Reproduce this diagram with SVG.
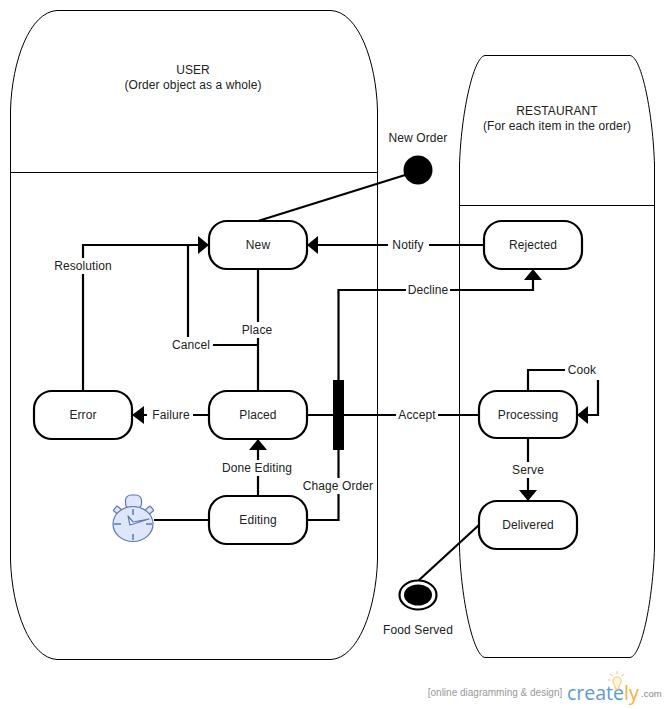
<svg xmlns="http://www.w3.org/2000/svg" width="666" height="709" viewBox="0 0 666 709">
<style>
text{font-family:"Liberation Sans",Arial,sans-serif;font-size:12px;fill:#222;text-anchor:middle;letter-spacing:.1px}
.lane{fill:#fff;stroke:#000;stroke-width:1}
.st{fill:#fff;stroke:#000;stroke-width:2.2}
.c{fill:none;stroke:#000;stroke-width:2.2}
.ah{fill:#000;stroke:none}
.lb{fill:#fff;stroke:none}
</style>
<rect width="666" height="709" fill="#fff"/>
<g id="lane-user">
<path class="lane" d="M57 10.500H331C358 12 376 60 377.500 110V560C376 610 358 658 331 659.500H57C30 658 12 610 10.500 560V110C12 60 30 12 57 10.500Z"/>
<path class="lane" d="M10.500 172.500H377.500"/>
<text x="193" y="74">USER</text>
<text x="193" y="89">(Order object as a whole)</text>
</g>
<g id="lane-restaurant">
<path class="lane" d="M485 55.500H630C642 57 653 115 654.500 165V548C653 598 642 656 630 657.500H485C473 656 461 598 459.500 548V165C461 115 473 57 485 55.500Z"/>
<path class="lane" d="M459.500 205.500H654.500"/>
<text x="557" y="115">RESTAURANT</text>
<text x="557" y="130">(For each item in the order)</text>
</g>
<g id="connectors">
<path class="c" d="M258 221L418 171"/>
<path class="c" d="M484 245H318"/>
<path class="ah" d="M307 245L318 236V254Z"/>
<path class="c" d="M83 391V245H198"/>
<path class="ah" d="M209 245L198 236V254Z"/>
<path class="c" d="M258 391V269"/>
<path class="c" d="M258 345H188V245"/>
<path class="c" d="M208 415H144"/>
<path class="ah" d="M132 415L144 406V424Z"/>
<path class="c" d="M307 415H479"/>
<path class="c" d="M338.500 380V290H533V278"/>
<path class="ah" d="M533 269L524 280H542Z"/>
<path class="c" d="M258 496V450"/>
<path class="ah" d="M258 439L249 450H267Z"/>
<path class="c" d="M154 520H209"/>
<path class="c" d="M307 520H338.500V450"/>
<path class="c" d="M528 391V370H598V415H588"/>
<path class="ah" d="M577 415L588 406V424Z"/>
<path class="c" d="M528 438V490"/>
<path class="ah" d="M528 501L519 490H537Z"/>
<path class="c" d="M479 525L418 581"/>
<g id="edge-labels">
<rect class="lb" x="388" y="237" width="41" height="16"/><text x="408" y="249">Notify</text>
<rect class="lb" x="52" y="258" width="62" height="16"/><text x="83" y="270">Resolution</text>
<rect class="lb" x="240" y="322" width="36" height="16"/><text x="257" y="334">Place</text>
<rect class="lb" x="170" y="337" width="43" height="16"/><text x="191" y="349">Cancel</text>
<rect class="lb" x="406" y="282" width="44" height="16"/><text x="428" y="294">Decline</text>
<rect class="lb" x="147" y="407" width="46" height="16"/><text x="171" y="419">Failure</text>
<rect class="lb" x="396" y="407" width="42" height="16"/><text x="417" y="419">Accept</text>
<rect class="lb" x="565" y="362" width="40" height="18"/><text x="582" y="374">Cook</text>
<rect class="lb" x="510" y="462" width="36" height="16"/><text x="528" y="474">Serve</text>
<rect class="lb" x="220" y="460" width="76" height="16"/><text x="257" y="472">Done Editing</text>
<rect class="lb" x="301" y="478" width="74" height="16"/><text x="338" y="490">Chage Order</text>
</g>
</g>
<g id="bar"><rect x="333" y="380" width="11" height="70" fill="#000"/></g>
<g id="start"><circle cx="418" cy="170" r="14.500" fill="#000"/><text x="418" y="142">New Order</text></g>
<g id="node-new"><rect class="st" x="209" y="221" width="98" height="48" rx="18"/><text x="258" y="249">New</text></g>
<g id="node-rejected"><rect class="st" x="484" y="221" width="98" height="48" rx="18"/><text x="533" y="249">Rejected</text></g>
<g id="node-error"><rect class="st" x="34" y="391" width="98" height="48" rx="18"/><text x="83" y="419">Error</text></g>
<g id="node-placed"><rect class="st" x="209" y="391" width="98" height="48" rx="18"/><text x="258" y="419">Placed</text></g>
<g id="node-processing"><rect class="st" x="479" y="391" width="98" height="47" rx="18"/><text x="528" y="419">Processing</text></g>
<g id="node-editing"><rect class="st" x="209" y="496" width="98" height="48" rx="18"/><text x="258" y="524">Editing</text></g>
<g id="node-delivered"><rect class="st" x="479" y="501" width="98" height="48" rx="18"/><text x="528" y="529">Delivered</text></g>
<g id="end">
<ellipse cx="418" cy="595" rx="18.500" ry="14.500" fill="#fff" stroke="#000" stroke-width="2.200"/>
<ellipse cx="418" cy="595" rx="14" ry="10.500" fill="#000"/>
<text x="418" y="634">Food Served</text>
</g>
<g id="timer" stroke="#5a78b8" stroke-width="1.200" stroke-linejoin="round">
<rect x="125.500" y="495" width="16" height="14" rx="5.500" fill="#dfe6fa"/>
<rect x="114" y="508" width="9" height="6" rx="1" fill="#dfe6fa" transform="rotate(40 118.500 511)"/>
<rect x="144" y="508" width="9" height="6" rx="1" fill="#dfe6fa" transform="rotate(-40 148.500 511)"/>
<ellipse cx="133" cy="524" rx="20" ry="17.500" fill="#dfe6fa"/>
<path d="M133 509V515M133 534V540M114 524H121M146 524H152" fill="none" stroke-width="1.500"/>
<path d="M128 516L130 525L149 519L133 522Z" fill="#fff"/>
</g>
<g id="branding">
<text x="495" y="696" style="font-size:10px;fill:#999;letter-spacing:0">[online diagramming &amp; design]</text>
<text x="567" y="700" style="font-family:'Open Sans','Liberation Sans',sans-serif;font-size:19.500px;fill:#5b9bd5;text-anchor:start;letter-spacing:0">create<tspan fill="#f5b041">ly</tspan></text>
<text x="641" y="697" style="font-size:9.500px;fill:#888;text-anchor:start;letter-spacing:0">.com</text>
<path d="M617 677C612 677 612 683 615 686V689H619V686C622 683 622 677 617 677ZM617 671V674M610 674L612.500 676M624 674L621.500 676M608 680H610.500" fill="#fff6dc" stroke="#f5c26b" stroke-width="1"/>
</g>
</svg>
